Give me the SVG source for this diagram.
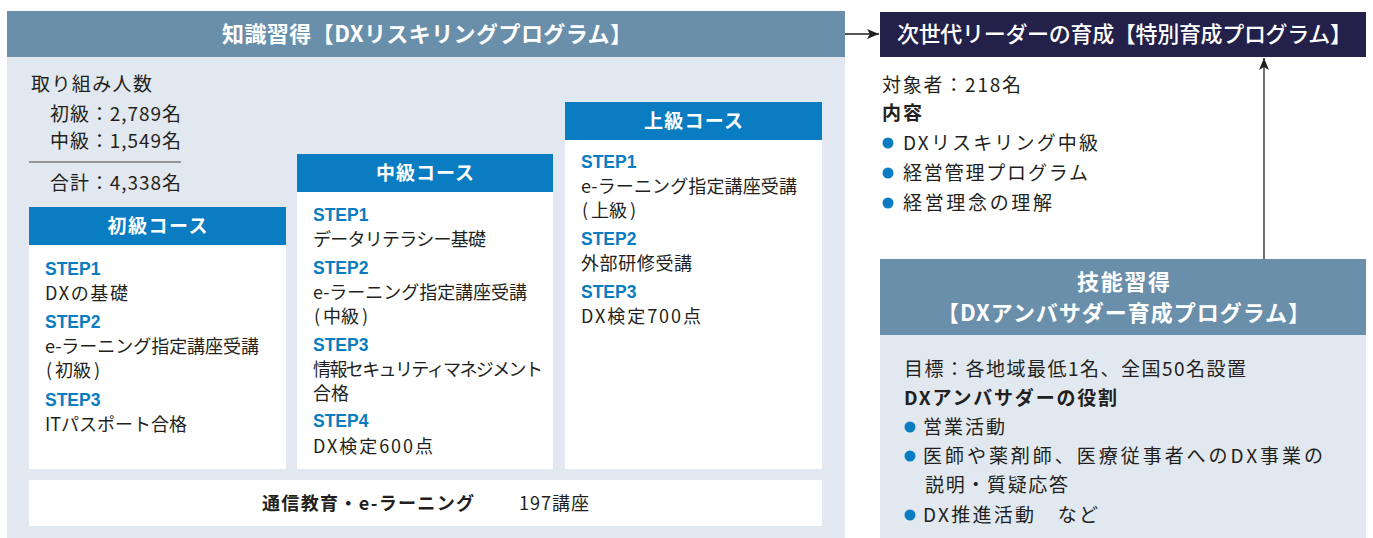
<svg xmlns="http://www.w3.org/2000/svg" width="1373" height="538" viewBox="0 0 1373 538">
<defs>
<marker id="ah" viewBox="0 0 12 10" refX="12" refY="5" markerWidth="12" markerHeight="10" markerUnits="userSpaceOnUse" orient="auto">
<path d="M0,0 L12,5 L0,10 L3,5 Z" fill="#231f20"/>
</marker>
</defs>
<style>
text{font-family:"Noto Sans CJK JP","Noto Sans",sans-serif;fill:#231f20;font-size:18px}
.hd{fill:#fff;font-weight:bold;font-size:22px;text-anchor:middle}
.ch{fill:#fff;font-weight:bold;font-size:19px;text-anchor:middle}
.st{fill:#0a7cc1;font-weight:bold;font-family:"Liberation Sans",Arial,sans-serif;font-size:17.5px}
.r{font-size:19px}
.b{font-weight:bold}
.steel{fill:#6a8fab}
.pale{fill:#e1e8ef}
.blue{fill:#0a7cc1}
.white{fill:#fff}
.dot{fill:#0a7cc1}
.ln{stroke:#231f20;stroke-width:1.3;fill:none}
</style>

<g id="knowledge">
<rect class="pale" x="7" y="11" width="838" height="527"/>
<rect class="steel" x="7" y="11" width="838" height="46"/>
<text class="hd" x="427" y="42" textLength="410" lengthAdjust="spacing">知識習得【DXリスキリングプログラム】</text>
<text class="r" x="31" y="91" textLength="121" lengthAdjust="spacing">取り組み人数</text>
<text class="r" x="50" y="121" textLength="131" lengthAdjust="spacing">初級：2,789名</text>
<text class="r" x="50" y="148" textLength="131" lengthAdjust="spacing">中級：1,549名</text>
<line x1="29" y1="162" x2="181" y2="162" stroke="#7a7a7a" stroke-width="1.3"/>
<text class="r" x="50" y="190" textLength="131" lengthAdjust="spacing">合計：4,338名</text>
</g>

<g id="beginner">
<rect class="white" x="29" y="207" width="257" height="262"/>
<rect class="blue" x="29" y="207" width="257" height="38"/>
<text class="ch" x="157.5" y="233" textLength="100" lengthAdjust="spacing">初級コース</text>
<text class="st" x="45" y="274.5">STEP1</text>
<text x="45" y="300" textLength="83" lengthAdjust="spacing">DXの基礎</text>
<text class="st" x="45" y="327.5">STEP2</text>
<text x="45" y="353" textLength="214" lengthAdjust="spacing">e-ラーニング指定講座受講</text>
<text x="46" y="377">(<tspan dx="3">初級</tspan><tspan dx="3">)</tspan></text>
<text class="st" x="45" y="405.5">STEP3</text>
<text x="45" y="431" textLength="142" lengthAdjust="spacing">ITパスポート合格</text>
</g>

<g id="intermediate">
<rect class="white" x="297" y="154" width="256" height="315"/>
<rect class="blue" x="297" y="154" width="256" height="38"/>
<text class="ch" x="425" y="180" textLength="98" lengthAdjust="spacing">中級コース</text>
<text class="st" x="313" y="220.5">STEP1</text>
<text x="313" y="246" textLength="173" lengthAdjust="spacing">データリテラシー基礎</text>
<text class="st" x="313" y="273.5">STEP2</text>
<text x="313" y="299" textLength="214" lengthAdjust="spacing">e-ラーニング指定講座受講</text>
<text x="314" y="323">(<tspan dx="3">中級</tspan><tspan dx="3">)</tspan></text>
<text class="st" x="313" y="350.5">STEP3</text>
<text x="313" y="376" textLength="230" lengthAdjust="spacing">情報セキュリティマネジメント</text>
<text x="313" y="400">合格</text>
<text class="st" x="313" y="426.5">STEP4</text>
<text x="313" y="453" textLength="120" lengthAdjust="spacing">DX検定600点</text>
</g>

<g id="advanced">
<rect class="white" x="565" y="102" width="257" height="367"/>
<rect class="blue" x="565" y="102" width="257" height="38"/>
<text class="ch" x="693.5" y="128" textLength="99" lengthAdjust="spacing">上級コース</text>
<text class="st" x="581" y="167.5">STEP1</text>
<text x="581" y="193" textLength="216" lengthAdjust="spacing">e-ラーニング指定講座受講</text>
<text x="582" y="217">(<tspan dx="3">上級</tspan><tspan dx="3">)</tspan></text>
<text class="st" x="581" y="244.5">STEP2</text>
<text x="581" y="270" textLength="111" lengthAdjust="spacing">外部研修受講</text>
<text class="st" x="581" y="297.5">STEP3</text>
<text x="581" y="323" textLength="120" lengthAdjust="spacing">DX検定700点</text>
</g>

<g id="elearning">
<rect class="white" x="29" y="480" width="793" height="46"/>
<text class="b" x="262" y="510" textLength="212" lengthAdjust="spacing">通信教育・e-ラーニング</text>
<text x="519" y="510" font-size="17" textLength="70" lengthAdjust="spacing">197講座</text>
</g>

<g id="leader">
<rect fill="#23204a" x="880" y="12" width="486" height="45"/>
<text class="hd" x="1124.5" y="42" style="font-weight:500" textLength="455" lengthAdjust="spacing">次世代リーダーの育成【特別育成プログラム】</text>
<text class="r" x="882" y="92" textLength="139" lengthAdjust="spacing">対象者：218名</text>
<text class="r b" x="882" y="120" textLength="40" lengthAdjust="spacing">内容</text>
<circle class="dot" cx="888" cy="143" r="5.5"/>
<text class="r" x="903" y="150" textLength="195" lengthAdjust="spacing">DXリスキリング中級</text>
<circle class="dot" cx="888" cy="173" r="5.5"/>
<text class="r" x="903" y="180" textLength="185" lengthAdjust="spacing">経営管理プログラム</text>
<circle class="dot" cx="888" cy="203" r="5.5"/>
<text class="r" x="903" y="210" textLength="149" lengthAdjust="spacing">経営理念の理解</text>
</g>

<g id="ambassador">
<rect class="pale" x="880" y="259" width="486" height="279"/>
<rect class="steel" x="880" y="259" width="486" height="76"/>
<text class="hd" x="1123.5" y="290" textLength="93" lengthAdjust="spacing">技能習得</text>
<text class="hd" x="1123.5" y="321" textLength="373" lengthAdjust="spacing">【DXアンバサダー育成プログラム】</text>
<text class="r" x="904" y="376" textLength="342" lengthAdjust="spacing">目標：各地域最低1名、全国50名設置</text>
<text class="r b" x="904" y="405" textLength="213" lengthAdjust="spacing">DXアンバサダーの役割</text>
<circle class="dot" cx="910" cy="427" r="5.5"/>
<text class="r" x="923" y="434" textLength="82" lengthAdjust="spacing">営業活動</text>
<circle class="dot" cx="910" cy="456" r="5.5"/>
<text class="r" x="923" y="463" textLength="400" lengthAdjust="spacing">医師や薬剤師、医療従事者へのDX事業の</text>
<text class="r" x="925" y="492" textLength="143" lengthAdjust="spacing">説明・質疑応答</text>
<circle class="dot" cx="910" cy="515" r="5.5"/>
<text class="r" x="923" y="522" textLength="175" lengthAdjust="spacing">DX推進活動　など</text>
</g>

<g id="connectors">
<line class="ln" x1="845" y1="34" x2="879" y2="34" marker-end="url(#ah)"/>
<line class="ln" x1="1264" y1="259" x2="1264" y2="58" marker-end="url(#ah)"/>
</g>
</svg>
